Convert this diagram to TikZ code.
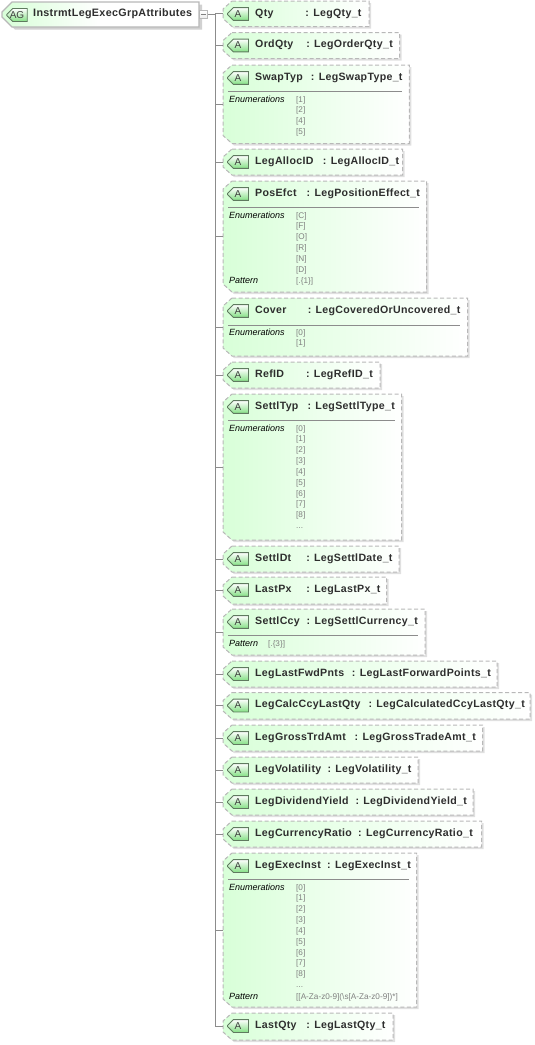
\documentclass[tikz,border=0pt]{standalone}
\usepackage{fontspec}
\setmainfont{Liberation Sans}
\newfontfamily\headfont[LetterSpace=3]{Liberation Sans}
\newcommand{\moreval}{...}
\usetikzlibrary{shapes.misc,shadows}
\definecolor{frame}{HTML}{B8B8B8}
\definecolor{mint}{HTML}{D8FFD8}
\definecolor{wire}{HTML}{8C8C8C}
\definecolor{badgegreen}{HTML}{84E084}
\definecolor{badgeline}{HTML}{5F7A5F}
\tikzset{
  anchorbox/.style={rectangle,inner sep=0pt,outer sep=0pt},
  attrshape/.style={draw=frame,dash pattern=on 4pt off 2.5pt,line width=1pt,left color=mint,right color=white,
    drop shadow={shadow xshift=2pt,shadow yshift=-2pt,fill=black!12,opacity=1}},
  rootshape/.style={draw=frame,line width=1.1pt,left color=mint,right color=white,middle color=white,
    drop shadow={shadow xshift=3pt,shadow yshift=-2.5pt,fill=black!18,opacity=1}},
  badge/.style={chamfered rectangle,chamfered rectangle corners={north west,south west},
    chamfered rectangle xsep=3pt,chamfered rectangle ysep=3pt,inner sep=0pt,outer sep=0pt,
    draw=badgeline,line width=.9pt,top color=white,bottom color=badgegreen,
    font=\fontsize{10}{10}\selectfont,text=black!75,minimum height=12pt},
  head/.style={anchor=base west,inner sep=0pt,font=\headfont\bfseries\fontsize{10.6}{11}\selectfont,text=black!82},
  typehead/.style={head,anchor=base east},
  caption/.style={anchor=base west,inner sep=0pt,font=\itshape\fontsize{9}{9}\selectfont,text=black},
  val/.style={anchor=base west,inner sep=0pt,font=\fontsize{8.2}{9}\selectfont,text=black!50},
  rule/.style={draw=black!45,line width=.7pt},
  tree/.style={draw=wire,line width=.8pt},
  toggle/.style={rectangle,draw=frame,line width=1pt,top color=white,bottom color=black!8,minimum size=8pt,inner sep=0pt}
}
% id, name, type, top, bottom, right, end of the type text
\newcommand{\attr}[7]{%
  \pgfmathsetmacro{\bw}{#6-223}\pgfmathsetmacro{\bh}{#5-#4}%
  \pgfmathsetmacro{\bx}{(#6+223)/2}\pgfmathsetmacro{\by}{(#5+#4)/2}%
  \node[anchorbox,minimum width=\bw pt,minimum height=\bh pt] (#1) at (\bx,\by) {};
  \path[attrshape] ([xshift=9pt]#1.north west) -- (#1.north east) -- (#1.south east)
    -- ([xshift=9pt]#1.south west) -- ([yshift=8pt]#1.south west) -- ([yshift=-8pt]#1.north west) -- cycle;
  \node[badge,minimum width=21pt] (#1-badge) at (238,#4+13) {A};
  \node[head] (#1-name) at (255,#4+15.3) {#2};
  \node[typehead] (#1-type) at (#7,#4+15.3) {: #3};
  \draw[tree] (trunk) |- (#1.west);
}
\newcommand{\sepline}[3]{\coordinate (#1-sl) at (228,#2);\coordinate (#1-sr) at (#3,#2);\draw[rule] (#1-sl) -- (#1-sr);}
% id, y of first line, values
\newcommand{\enums}[3]{%
  \node[caption] (#1-enum) at (229,#2+3) {Enumerations};
  \foreach \v [count=\i from 0] in {#3} {
    \node[val] (#1-v\i) at (296,#2+3+10.85*\i) {\v};
  }
}
\begin{document}
\begin{tikzpicture}[x=1pt,y=-1pt]
\useasboundingbox (0,0) rectangle (535,1045);
\coordinate (trunk) at (215,14.5);
\node[anchorbox,minimum width=197pt,minimum height=25pt] (root) at (100.5,14.5) {};
\path[rootshape] ([xshift=10pt]root.north west) -- (root.north east) -- (root.south east)
  -- ([xshift=10pt]root.south west) -- ([yshift=10pt]root.south west) -- ([yshift=-10pt]root.north west) -- cycle;
\node[badge,minimum width=20pt,minimum height=13pt] (root-badge) at (17,15) {AG};
\node[head,font=\headfont\bfseries\fontsize{10.75}{11}\selectfont] (root-name) at (33,16.5) {InstrmtLegExecGrpAttributes};
\attr{qty}{Qty}{LegQty\_t}{1}{26.5}{369}{361.7}
\attr{ordqty}{OrdQty}{LegOrderQty\_t}{32.5}{58.5}{399.5}{393}
\attr{swap}{SwapTyp}{LegSwapType\_t}{65}{143.5}{409.3}{402.7}
\sepline{swap}{91}{402}
\enums{swap}{99}{{[1]},{[2]},{[4]},{[5]}}
\attr{alloc}{LegAllocID}{LegAllocID\_t}{149}{175}{402.5}{399.3}
\attr{pos}{PosEfct}{LegPositionEffect\_t}{181}{292}{426.7}{420}
\sepline{pos}{207.3}{419}
\enums{pos}{215}{{[C]},{[F]},{[O]},{[R]},{[N]},{[D]}}
\node[caption] (pos-pat) at (229,283) {Pattern};
\node[val] (pos-patv) at (296,283) {[.\{1\}]};
\attr{cover}{Cover}{LegCoveredOrUncovered\_t}{298}{356}{467.7}{460.7}
\sepline{cover}{325}{460}
\enums{cover}{332}{{[0]},{[1]}}
\attr{refid}{RefID}{LegRefID\_t}{362}{388}{380}{373}
\attr{settltyp}{SettlTyp}{LegSettlType\_t}{394}{540}{401.7}{395}
\sepline{settltyp}{420.7}{395}
\enums{settltyp}{428}{{[0]},{[1]},{[2]},{[3]},{[4]},{[5]},{[6]},{[7]},{[8]},{\moreval}}
\attr{settldt}{SettlDt}{LegSettlDate\_t}{546}{572}{399}{392.7}
\attr{lastpx}{LastPx}{LegLastPx\_t}{577}{604}{386.7}{380.7}
\attr{ccy}{SettlCcy}{LegSettlCurrency\_t}{609}{655}{425}{418}
\sepline{ccy}{635}{418}
\node[caption] (ccy-pat) at (229,646) {Pattern};
\node[val] (ccy-patv) at (268,646) {[.\{3\}]};
\attr{fwd}{LegLastFwdPnts}{LegLastForwardPoints\_t}{661}{687}{497}{491}
\attr{calc}{LegCalcCcyLastQty}{LegCalculatedCcyLastQty\_t}{692.5}{719}{530}{525}
\attr{gross}{LegGrossTrdAmt}{LegGrossTradeAmt\_t}{725}{751}{482.7}{476}
\attr{vol}{LegVolatility}{LegVolatility\_t}{757}{783}{418}{411.7}
\attr{div}{LegDividendYield}{LegDividendYield\_t}{789}{815}{473}{467}
\attr{ratio}{LegCurrencyRatio}{LegCurrencyRatio\_t}{821}{847}{481.7}{473}
\attr{exec}{LegExecInst}{LegExecInst\_t}{853}{1007}{416.7}{411}
\sepline{exec}{879.5}{409}
\enums{exec}{887}{{[0]},{[1]},{[2]},{[3]},{[4]},{[5]},{[6]},{[7]},{[8]},{\moreval}}
\node[caption] (exec-pat) at (229,999) {Pattern};
\node[val] (exec-patv) at (296,999) {[[A-Za-z0-9](\textbackslash s[A-Za-z0-9])*]};
\attr{lastqty}{LastQty}{LegLastQty\_t}{1013}{1040}{393}{385.7}
\node[toggle] (toggle) at (203.3,14.5) {};
\draw[black!50,line width=.8pt] ([xshift=-2.5pt]toggle.center) -- ([xshift=2.5pt]toggle.center);
\draw[tree] (toggle.east) -- (trunk);
\end{tikzpicture}
\end{document}
